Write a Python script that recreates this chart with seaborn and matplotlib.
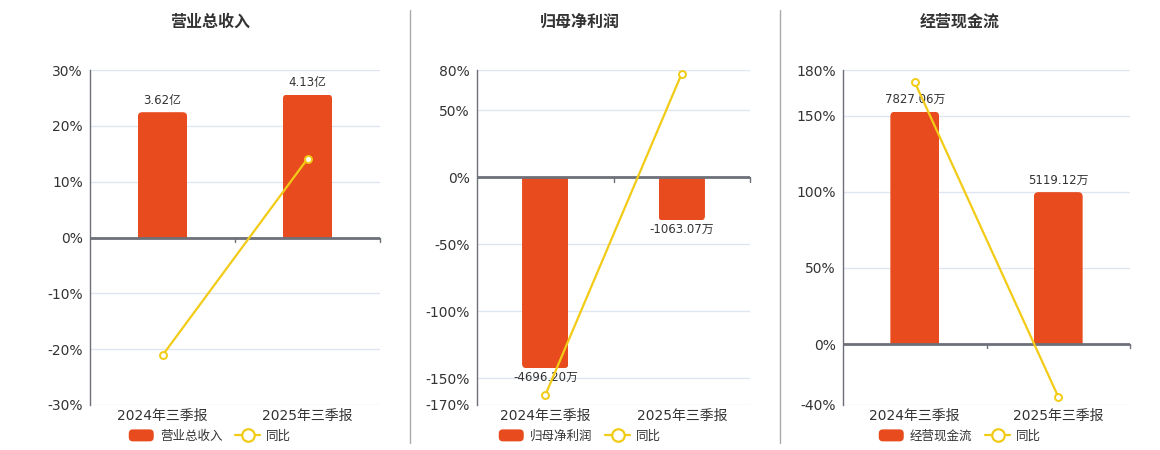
import matplotlib
matplotlib.use("Agg")
import matplotlib.pyplot as plt
import seaborn as sns
import numpy as np
import pandas as pd
from matplotlib.patches import Patch, FancyBboxPatch, Rectangle
from matplotlib.lines import Line2D
from matplotlib.legend_handler import HandlerPatch
from matplotlib.transforms import blended_transform_factory

# ---------------- data ----------------
categories = ["2024年三季报", "2025年三季报"]

revenue = [3.62, 4.13]            # 亿
revenue_labels = ["3.62亿", "4.13亿"]
revenue_yoy = [-21.1, 14.09]      # %

profit = [-4696.20, -1063.07]     # 万
profit_labels = ["-4696.20万", "-1063.07万"]
profit_yoy = [-162.7, 77.36]

cashflow = [7827.06, 5119.12]     # 万
cashflow_labels = ["7827.06万", "5119.12万"]
cashflow_yoy = [172.0, -34.6]

titles = ["营业总收入", "归母净利润", "经营现金流"]
pct_ticks = [
    [-30, -20, -10, 0, 10, 20, 30],
    [-170, -150, -100, -50, 0, 50, 80],
    [-40, 0, 50, 100, 150, 180],
]
# value units per percent (aligns bar axis with percent axis at zero)
scale = [0.1613, 32.95, 51.3]

# ---------------- style ----------------
sns.set_theme(style="white")
plt.rcParams["font.family"] = ["DejaVu Sans", "Noto Sans CJK SC"]

BAR = "#E84C1E"
LINE = "#F2CB16"
AXIS = "#6E7079"
GRID = "#E0E6F1"
TXT = "#333333"

fig = plt.figure(figsize=(11.6, 4.5), dpi=100)
W, H = 1160, 450

axes_px = [(90, 380), (477, 750), (843, 1130)]
title_x = [210, 580, 960]
top_px, bot_px = 70, 405
RADIUS_PX = 4.5


def round_patch(legend, orig_handle, xdescent, ydescent, width, height, fontsize):
    return FancyBboxPatch((-xdescent, -ydescent), width, height,
                          boxstyle="round,pad=0,rounding_size=3")


panels = [
    (revenue, revenue_labels, revenue_yoy),
    (profit, profit_labels, profit_yoy),
    (cashflow, cashflow_labels, cashflow_yoy),
]

for i, ((vals, labels, yoy), (x0, x1)) in enumerate(zip(panels, axes_px)):
    ax = fig.add_axes([x0 / W, 1 - bot_px / H, (x1 - x0) / W, (bot_px - top_px) / H])
    ticks = pct_ticks[i]
    k = scale[i]
    lo, hi = ticks[0], ticks[-1]

    df = pd.DataFrame({"cat": categories, "val": vals})
    sns.barplot(data=df, x="cat", y="val", ax=ax, color=BAR, width=0.34,
                saturation=1, edgecolor="none", zorder=2)
    ax.set_ylim(lo * k, hi * k)
    ax.set_xlim(-0.5, 1.5)

    # rounded far-end corners on the bars
    px_per_x = (x1 - x0) / 2.0
    px_per_y = (bot_px - top_px) / ((hi - lo) * k)
    r_x = RADIUS_PX / px_per_x
    aspect = px_per_x / px_per_y
    ext = 2 * RADIUS_PX / px_per_y
    for bar in list(ax.patches):
        bx, bw = bar.get_x(), bar.get_width()
        by, bh = bar.get_y(), bar.get_height()
        y_a, y_b = min(by, by + bh), max(by, by + bh)
        if y_b > 0:
            fy0, fy1 = y_a - ext, y_b
        else:
            fy0, fy1 = y_a, y_b + ext
        fp = FancyBboxPatch((bx, fy0), bw, fy1 - fy0,
                            boxstyle=f"round,pad=0,rounding_size={r_x}",
                            mutation_aspect=aspect, facecolor=BAR,
                            edgecolor="none", zorder=2)
        ax.add_patch(fp)
        clip = Rectangle((bx, y_a), bw, y_b - y_a, transform=ax.transData)
        fp.set_clip_path(clip)
        bar.set_visible(False)

    ax.set_yticks([t * k for t in ticks])
    ax.set_yticklabels([f"{t}%" for t in ticks])
    ax.yaxis.grid(True, color=GRID, linewidth=1)
    ax.set_axisbelow(True)
    ax.set_xlabel("")
    ax.set_ylabel("")
    for s in ["top", "right", "bottom"]:
        ax.spines[s].set_visible(False)
    ax.spines["left"].set_color(AXIS)
    ax.spines["left"].set_linewidth(1)
    ax.tick_params(axis="y", length=0, labelsize=10, labelcolor=TXT, pad=5)
    ax.tick_params(axis="x", length=0, labelsize=10, labelcolor=TXT, pad=3)

    # zero axis line and ticks
    ax.axhline(0, color=AXIS, linewidth=2, zorder=3)
    tr = blended_transform_factory(ax.transData, ax.transAxes)
    zero_ax = (0 - lo) / (hi - lo)
    for xb in [0.5, 1.5]:
        ax.plot([xb, xb], [zero_ax, zero_ax - 0.013], transform=tr,
                color=AXIS, linewidth=1, zorder=3, clip_on=False)

    # bar labels
    for j, (v, lab) in enumerate(zip(vals, labels)):
        if v >= 0:
            ax.annotate(lab, (j, v), xytext=(0, 4), textcoords="offset points",
                        ha="center", va="bottom", fontsize=8.5, color=TXT, zorder=5)
        else:
            ax.annotate(lab, (j, v), xytext=(0, -2), textcoords="offset points",
                        ha="center", va="top", fontsize=8.5, color=TXT, zorder=5)

    # yoy line on twin axis
    ax2 = ax.twinx()
    ldf = pd.DataFrame({"x": [0, 1], "y": yoy})
    sns.lineplot(data=ldf, x="x", y="y", ax=ax2, color=LINE, linewidth=1.6,
                 marker="o", markersize=5, markerfacecolor="white",
                 markeredgecolor=LINE, markeredgewidth=1.4)
    ax2.set_ylim(lo, hi)
    ax2.set_xlim(-0.5, 1.5)
    ax2.set_yticks([])
    ax2.set_ylabel("")
    ax2.set_xlabel("")
    for s in ax2.spines.values():
        s.set_visible(False)

    # title
    fig.text(title_x[i] / W, 1 - 22 / H, titles[i], ha="center", va="center",
             fontsize=11.5, fontweight="bold", color=TXT)

    # legend (centred under the title, like the reference)
    bar_handle = Patch(facecolor=BAR, edgecolor="none", label=titles[i])
    line_handle = Line2D([0], [0], color=LINE, linewidth=1.6, marker="o",
                         markersize=9, markerfacecolor="white",
                         markeredgecolor=LINE, markeredgewidth=1.6, label="同比")
    leg = fig.legend(handles=[bar_handle, line_handle], loc="center", ncol=2,
                     frameon=False,
                     bbox_to_anchor=(title_x[i] / W, 1 - 436 / H),
                     bbox_transform=fig.transFigure, fontsize=9,
                     handlelength=2.0, handleheight=1.1, columnspacing=1.0,
                     handletextpad=0.5,
                     handler_map={Patch: HandlerPatch(patch_func=round_patch)})
    for t in leg.get_texts():
        t.set_color(TXT)

# separators
for xs in [410, 780]:
    fig.add_artist(Line2D([xs / W, xs / W], [1 - 10 / H, 1 - 443 / H],
                          color="#AAAAAA", linewidth=1))

fig.savefig("out.png", dpi=100, facecolor="white")
